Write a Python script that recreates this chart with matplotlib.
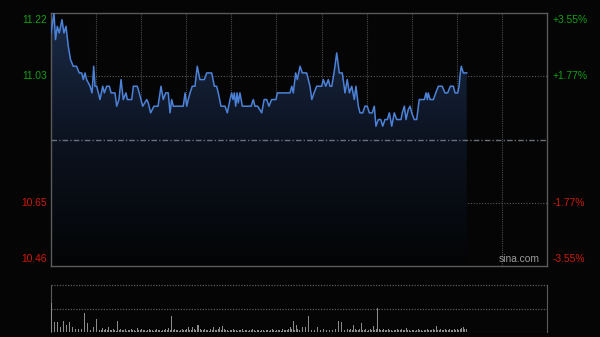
import matplotlib
matplotlib.use("Agg")
import matplotlib.pyplot as plt
import matplotlib.transforms as mtransforms
from matplotlib.patches import Polygon
from matplotlib.colors import LinearSegmentedColormap
import numpy as np

# HK session: 09:30-12:00 + 13:00-16:00 = 330 minutes
SESSION_MINUTES = 330
PREV_CLOSE = 10.84
PRICE_LOW, PRICE_HIGH = 10.46, 11.22

# intraday price, (minute, price) turning points
MINUTES = [0, 2, 3, 4.2, 5.5, 7.3, 8.6, 10, 11.5, 13, 14.8, 17, 18.8, 20.4, 21.5,
           22.6, 23.7, 26, 27.3, 28.4, 29.3, 30.4, 32.6, 34.4, 35.5, 37, 38.8, 40,
           42.6, 43.7, 45.2, 46.6, 48.1, 49.9, 50.8, 53.7, 54.8, 57.4, 58.7, 61,
           63.7, 64.7, 66.3, 68.5, 71.2, 73.2, 74.7, 76.3, 78, 79.2, 80.3, 81.4, 88,
           89.2, 90.3, 91.3, 92.5, 94, 95.8, 97.3, 99.1, 102, 103.6, 106.9, 108.7,
           110.2, 111.3, 113.1, 115.8, 117.3, 119.1, 120.2, 121.1, 122, 122.9, 123.8,
           124.6, 125.7, 127.3, 133.1, 134.6, 135.7, 137.5, 140.2, 141.8, 143.5, 145,
           146.8, 149.7, 150.6, 159, 160.2, 161.2, 162.8, 163.9, 165.7, 167.2, 170.1,
           172.3, 173.5, 175, 176.8, 180.1, 181.2, 182.8, 184.5, 185.6, 186.8, 188.3,
           190.1, 191.8, 193.8, 195.6, 197.1, 198.5, 200.1, 201.8, 202.9, 204.5,
           205.6, 207.4, 208.9, 210.4, 211.8, 213.7, 215.1, 216.2, 217.8, 219.4,
           220.7, 222.2, 223.8, 225.1, 226.7, 228.4, 230, 232.9, 233.7, 235.1, 236.2,
           237.7, 238.9, 240, 241.7, 243.3, 245, 248.4, 249.5, 250.4, 251, 252.2,
           254.4, 256, 257.7, 260.3, 262.1, 263.9, 265.7, 267.7, 268.8, 270.6, 271.5,
           272.3, 273, 274.3, 276.6]
PRICES = [11.16, 11.22, 11.14, 11.18, 11.16, 11.20, 11.16, 11.18, 11.12, 11.08, 11.06,
          11.06, 11.04, 11.04, 11.02, 11.04, 11.02, 11.00, 10.98, 11.06, 11.00, 11.00,
          10.96, 11.00, 10.98, 11.00, 11.00, 10.98, 10.98, 10.94, 10.96, 11.02, 10.96,
          10.98, 10.96, 10.96, 11.00, 11.00, 10.98, 10.94, 10.96, 10.95, 10.92, 10.94,
          10.94, 11.00, 10.96, 10.98, 10.98, 10.92, 10.96, 10.94, 10.94, 10.98, 10.94,
          10.96, 10.98, 11.00, 11.00, 11.06, 11.02, 11.02, 11.04, 11.04, 11.00, 11.00,
          10.98, 10.94, 10.94, 10.92, 10.96, 10.98, 10.96, 10.98, 10.94, 10.98, 10.95,
          10.98, 10.94, 10.94, 10.96, 10.94, 10.94, 10.92, 10.96, 10.96, 10.94, 10.96,
          10.96, 10.98, 10.98, 11.00, 10.98, 11.04, 11.02, 11.06, 11.04, 11.04, 11.00,
          10.96, 10.98, 11.00, 11.00, 11.02, 11.00, 11.02, 11.00, 11.00, 11.04, 11.10,
          11.04, 11.04, 10.98, 11.02, 10.98, 11.00, 10.96, 11.00, 10.94, 10.92, 10.92,
          10.94, 10.94, 10.92, 10.92, 10.94, 10.88, 10.90, 10.90, 10.88, 10.90, 10.90,
          10.92, 10.88, 10.92, 10.90, 10.90, 10.92, 10.94, 10.90, 10.93, 10.94, 10.92,
          10.90, 10.90, 10.96, 10.96, 10.98, 10.96, 10.98, 10.96, 10.96, 10.98, 11.00,
          11.00, 10.98, 10.98, 11.00, 11.00, 10.98, 10.98, 11.00, 11.04, 11.06, 11.04,
          11.04]

# per-minute volume (relative units, axis top = 47)
VOLUME = [29, 13, 10, 19, 10, 17, 5, 11, 11, 11, 7, 5, 10, 9, 5, 2, 3, 2, 3, 2,
          3, 2, 19, 2, 9, 4, 2, 47, 5, 3, 13, 3, 2, 2, 4, 2, 3, 2, 5, 2,
          2, 3, 2, 1, 11, 2, 3, 2, 2, 3, 1, 2, 2, 3, 2, 2, 1, 4, 2, 2,
          3, 2, 2, 1, 2, 3, 2, 2, 1, 2, 3, 2, 2, 1, 2, 2, 3, 2, 4, 2,
          16, 2, 3, 2, 2, 1, 2, 3, 2, 2, 3, 5, 2, 2, 5, 3, 2, 7, 7, 3,
          2, 2, 3, 2, 2, 1, 3, 2, 5, 2, 2, 3, 5, 2, 6, 3, 2, 2, 1, 2,
          2, 3, 2, 2, 1, 2, 2, 3, 1, 2, 2, 1, 2, 2, 3, 2, 1, 2, 2, 1,
          2, 2, 1, 2, 2, 1, 2, 3, 2, 1, 2, 2, 2, 1, 3, 2, 2, 2, 3, 5,
          3, 11, 2, 7, 3, 2, 5, 5, 4, 5, 3, 16, 4, 2, 3, 2, 2, 5, 3, 2,
          2, 3, 2, 2, 5, 2, 3, 2, 2, 3, 2, 11, 3, 10, 3, 2, 2, 3, 2, 3,
          2, 7, 3, 2, 2, 3, 9, 2, 2, 3, 1, 2, 3, 2, 6, 2, 3, 24, 3, 2,
          2, 3, 2, 2, 3, 2, 2, 1, 2, 2, 3, 2, 2, 3, 2, 2, 4, 2, 2, 1,
          2, 2, 1, 2, 3, 2, 2, 1, 2, 2, 3, 2, 2, 2, 3, 2, 6, 2, 2, 3,
          2, 2, 3, 2, 2, 3, 2, 2, 3, 2, 3, 2, 3, 4, 5, 3, 3]
VOLUME_TOP = 47

# axis labels
PRICE_TICKS = [11.22, 11.03, 10.65, 10.46]
PRICE_LABELS = ["11.22", "11.03", "10.65", "10.46"]
PCT_LABELS = ["+3.55%", "+1.77%", "-1.77%", "-3.55%"]
LABEL_COLORS = ["#12a012", "#12a012", "#d01a0a", "#d01a0a"]

BG = "#050505"
GRID = "#4a4a4a"
BORDER = "#5a5a5a"
LINE = "#4c82d8"

plt.rcParams["font.family"] = ["Liberation Sans", "DejaVu Sans"]

fig = plt.figure(figsize=(6.0, 3.37), dpi=100)
fig.patch.set_facecolor(BG)

ax = fig.add_axes([51 / 600, 1 - 266 / 337, 496 / 600, 253 / 337])
vax = fig.add_axes([51 / 600, 1 - 332 / 337, 496 / 600, 47 / 337])

for a in (ax, vax):
    a.set_facecolor(BG)
    a.set_xlim(0, SESSION_MINUTES)
    a.set_xticks([])
    a.set_yticks([])

ax.set_ylim(PRICE_LOW, PRICE_HIGH)
for s in ax.spines.values():
    s.set_color(BORDER)
    s.set_linewidth(1.0)

# vertical grid every half hour
for m in range(30, SESSION_MINUTES, 30):
    ax.axvline(m, color=GRID, lw=0.8, ls=(0, (1, 1)), zorder=1)

# horizontal grid
ax.axhline(PRICE_TICKS[1], color="#5a5a5a", lw=0.8, ls=(0, (1, 1.5)), zorder=1)
ax.axhline(PRICE_TICKS[2], color="#5a5a5a", lw=0.8, ls=(0, (1, 1.5)), zorder=1)
ax.axhline(PREV_CLOSE, color="#6a7078", lw=1.0, ls=(0, (4, 1.5, 1, 1.5)), zorder=4)

# gradient fill under the price line
xs = np.asarray(MINUTES, dtype=float)
ys = np.asarray(PRICES, dtype=float)
verts = np.column_stack([np.r_[xs[0], xs, xs[-1]], np.r_[PRICE_LOW, ys, PRICE_LOW]])
poly = Polygon(verts, closed=True, facecolor="none", edgecolor="none")
ax.add_patch(poly)
cmap = LinearSegmentedColormap.from_list("fill", ["#030405", "#0c1320", "#1b2b48"])
grad = np.linspace(0, 1, 256).reshape(-1, 1)
im = ax.imshow(grad, extent=[0, SESSION_MINUTES, PRICE_LOW, PRICE_HIGH],
               origin="lower", aspect="auto", cmap=cmap, zorder=2)
im.set_clip_path(poly)

ax.plot(xs, ys, color=LINE, lw=1.1, zorder=5)

# price / percent labels
trans = mtransforms.blended_transform_factory(ax.transAxes, ax.transData)
vas = ["top", "center", "center", "bottom"]
for tick, lab, pct, col, va in zip(PRICE_TICKS, PRICE_LABELS, PCT_LABELS, LABEL_COLORS, vas):
    off = {"top": -1.5, "center": 0, "bottom": 1.2}[va]
    ax.annotate(lab, (0, tick), xycoords=trans, xytext=(-3, off), textcoords="offset points",
                ha="right", va=va, color=col, fontsize=7.4, clip_on=False)
    ax.annotate(pct, (1, tick), xycoords=trans, xytext=(4, off), textcoords="offset points",
                ha="left", va=va, color=col, fontsize=7.4, clip_on=False)

ax.text(0.985, 0.008, "sina.com", transform=ax.transAxes, ha="right", va="bottom",
        color="#9a9a9a", fontsize=7.4, zorder=6)

# volume panel
vax.set_ylim(0, VOLUME_TOP)
vax.spines["left"].set_color(BORDER)
vax.spines["right"].set_color(BORDER)
vax.spines["top"].set_visible(False)
vax.spines["bottom"].set_visible(False)
vax.axhline(VOLUME_TOP, color="#5a5a5a", lw=0.9, ls=(0, (1, 1.2)), clip_on=False)
vax.axhline(VOLUME_TOP / 2, color="#5a5a5a", lw=0.9, ls=(0, (1, 1.2)))
vax.axhline(0.3, color="#5a5a5a", lw=0.9, ls=(0, (1, 1.2)))
vax.bar(np.arange(len(VOLUME)), VOLUME, width=0.6, color="#8c8c8c", align="edge", zorder=3)

fig.savefig("out.png", dpi=100, facecolor=BG)
